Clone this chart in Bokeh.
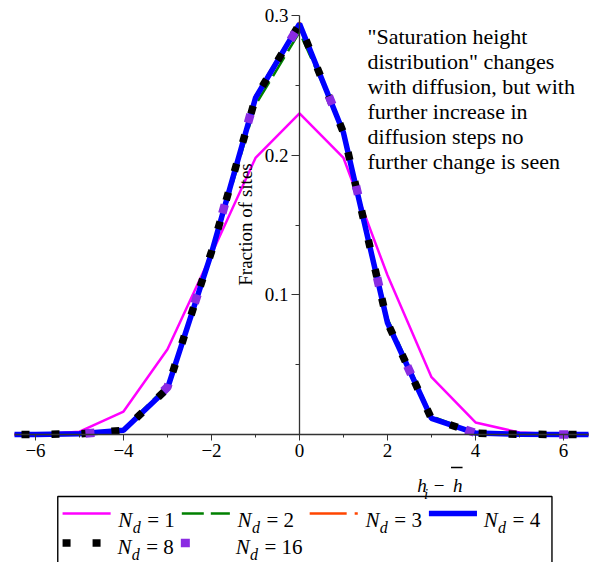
import math
from bokeh.plotting import figure
from bokeh.layouts import column
from bokeh.models import FixedTicker, Label, Range1d
from bokeh.embed import file_html
from bokeh.resources import INLINE

# ---------------- data ----------------
h_dev = [-7, -6, -5, -4, -3, -2, -1, 0, 1, 2, 3, 4, 5, 6, 7]
frac_nd1 = [0, 0, 0.002, 0.0164, 0.061, 0.129, 0.198, 0.230, 0.198, 0.114, 0.041, 0.0086, 0.0014, 0, 0]
frac_nd2 = [0, 0, 0.0006, 0.004, 0.035, 0.128, 0.236, 0.288, 0.218, 0.083, 0.013, 0.0012, 0.0002, 0, 0]
frac_nd3 = [0, 0, 0.0005, 0.003, 0.032, 0.132, 0.243, 0.295, 0.215, 0.079, 0.011, 0.001, 0.0002, 0, 0]
frac_nd4 = [0, 0, 0.0005, 0.003, 0.033, 0.130, 0.241, 0.294, 0.216, 0.080, 0.0115, 0.001, 0.0002, 0, 0]
frac_nd8 = [0, 0, 0.0005, 0.003, 0.033, 0.131, 0.241, 0.294, 0.216, 0.080, 0.0113, 0.001, 0.0002, 0, 0]
frac_nd16 = [0, 0, 0.0004, 0.003, 0.034, 0.131, 0.242, 0.293, 0.217, 0.080, 0.0112, 0.0012, 0.0001, 0, 0]

nd_labels = ["1", "2", "3", "4", "8", "16"]
x_tick_values = [-6, -4, -2, 0, 2, 4, 6]
x_tick_labels = ["\u22126", "\u22124", "\u22122", "0", "2", "4", "6"]
x_minor_values = [-5, -3, -1, 1, 3, 5]
y_tick_values = [0.1, 0.2, 0.3]
y_tick_labels = ["0.1", "0.2", "0.3"]
y_minor_values = [0.05, 0.15, 0.25]
y_title = "Fraction of sites"
note_lines = [
    "\"Saturation height",
    "distribution\" changes",
    "with diffusion, but with",
    "further increase in",
    "diffusion steps no",
    "further change is seen",
]

# ---------------- styles / layout ----------------
SERIF = "Liberation Serif"
series = [
    (frac_nd1, "#ff00ff", 2.5, "solid"),
    (frac_nd2, "#008000", 2.5, "22 7"),
    (frac_nd3, "#ff4500", 2.5, "37 8 5 8"),
    (frac_nd4, "#0000ff", 5.5, "solid"),
    (frac_nd8, "#000000", 7.5, "8 22"),
    (frac_nd16, "#8a2be2", 8.5, "9 85"),
]

W = 597
MAIN_H = 462
FRAME_LEFT, FRAME_RIGHT = 14, 588
FRAME_TOP = 3
PX_X = 44.0
PX_Y = 419 / 0.3          # 0 -> row 434, 0.3 -> row 15
ZERO_ROW = 434
ZERO_COL = 299

x_lo = -(ZERO_COL - FRAME_LEFT) / PX_X
x_hi = (FRAME_RIGHT - ZERO_COL) / PX_X
y_hi = (ZERO_ROW - FRAME_TOP) / PX_Y
y_lo = -(MAIN_H - ZERO_ROW) / PX_Y


def ry(row):
    return (ZERO_ROW - row) / PX_Y


def rx(col):
    return (col - ZERO_COL) / PX_X


p = figure(width=W, height=MAIN_H, x_range=Range1d(x_lo, x_hi), y_range=Range1d(y_lo, y_hi),
           output_backend="svg", toolbar_location=None,
           min_border_left=FRAME_LEFT, min_border_right=W - FRAME_RIGHT,
           min_border_top=FRAME_TOP, min_border_bottom=0)
p.outline_line_color = None
p.xgrid.visible = False
p.ygrid.visible = False
p.background_fill_color = "white"
p.border_fill_color = "white"

for ys, col, lw, dash in series:
    p.line(h_dev, ys, line_color=col, line_width=lw, line_dash=dash)

AX = "#333333"
for ax in (p.xaxis[0], p.yaxis[0]):
    ax.fixed_location = 0
    ax.axis_line_color = AX
    ax.axis_line_width = 1.3
    ax.major_tick_line_color = AX
    ax.minor_tick_line_color = AX
    ax.major_tick_in = 0
    ax.minor_tick_in = 0
    ax.major_label_text_font = SERIF
    ax.major_label_text_font_size = "19px"
    ax.major_label_text_color = "black"

p.xaxis.ticker = FixedTicker(ticks=x_tick_values, minor_ticks=x_minor_values)
p.xaxis.major_label_overrides = dict(zip(x_tick_values, x_tick_labels))
p.xaxis.major_tick_out = 6
p.xaxis.minor_tick_out = 3
p.xaxis.major_label_standoff = 3

p.yaxis.ticker = FixedTicker(ticks=y_tick_values, minor_ticks=y_minor_values)
p.yaxis.major_label_overrides = dict(zip(y_tick_values, y_tick_labels))
p.yaxis.bounds = (0, 0.3)
p.yaxis.major_tick_out = 8
p.yaxis.minor_tick_out = 4
p.yaxis.major_label_standoff = 3

p.add_layout(Label(x=rx(245), y=ry(224), text=y_title, angle=math.pi / 2,
                   text_align="center", text_baseline="middle",
                   text_font=SERIF, text_font_size="19px", text_color="black"))

for i, line in enumerate(note_lines):
    p.add_layout(Label(x=rx(367), y=ry(36 + 25 * i), text=line,
                       text_align="left", text_baseline="alphabetic",
                       text_font=SERIF, text_font_size="22px", text_color="black"))

# ---------------- legend + x title panel (picture pixel coordinates) ----------------
LEG_TOP = MAIN_H
LEG_H = 562 - LEG_TOP
leg = figure(width=W, height=LEG_H, x_range=Range1d(0, W), y_range=Range1d(562, LEG_TOP),
             output_backend="svg", toolbar_location=None, x_axis_type=None, y_axis_type=None,
             min_border_left=0, min_border_right=0, min_border_top=0, min_border_bottom=0)
leg.outline_line_color = None
leg.border_fill_color = "white"


def txt(fig, x, y, s, size, italic=False):
    fig.add_layout(Label(x=x, y=y, text=s, text_font=SERIF, text_font_size=size,
                         text_font_style="italic" if italic else "normal",
                         text_color="black", text_align="left", text_baseline="alphabetic"))


# x-axis title  h_i - h-bar
txt(leg, 419, 485, "h", "19px", italic=True)
txt(leg, 426, 493, "i", "15px", italic=True)
txt(leg, 436, 485, "\u2212", "19px")
txt(leg, 456, 485, "h", "19px", italic=True)
leg.line(x=[454, 466], y=[467, 467], line_color="black", line_width=1.6)

# legend box (bottom edge lies outside the picture)
leg.line(x=[45, 45, 559, 559], y=[600, 496, 496, 600], line_color="black", line_width=1.4)

sample_x = [50, 174, 307, 431, 50, 173]
sample_y = [513, 513, 513, 513, 542.5, 542.5]
text_x = [108, 232, 365, 488, 107, 230]
text_base = [519.5, 519.5, 519.5, 519.5, 546, 546]
for (ys, col, lw, dash), sx, sy in zip(series, sample_x, sample_y):
    leg.line(x=[sx, sx + 50], y=[sy, sy], line_color=col, line_width=lw, line_dash=dash)

for tx, tb, lab in zip(text_x, text_base, nd_labels):
    txt(leg, tx, tb, "N", "21px", italic=True)
    txt(leg, tx + 15, tb + 7.5, "d", "16px", italic=True)
    txt(leg, tx + 30, tb, "= " + lab, "21px")

layout = column(p, leg)
open("out.html", "w").write(file_html(layout, INLINE))
